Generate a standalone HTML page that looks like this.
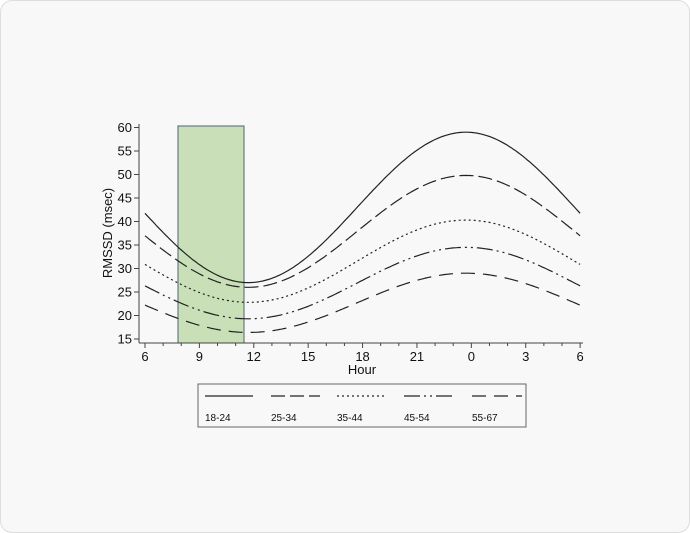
<!DOCTYPE html>
<html><head><meta charset="utf-8"><style>
html,body{margin:0;padding:0;background:#fff;}
.card{position:absolute;left:0;top:0;width:688px;height:531px;border:1px solid #ddd;border-radius:12px;background:#f8f8f8;}
svg{position:absolute;left:0;top:0;}
text{font-family:"Liberation Sans",sans-serif;fill:#111;}
</style></head><body>
<div class="card"></div>
<svg width="690" height="533" viewBox="0 0 690 533" id="s">
<rect x="178" y="126" width="66" height="217" fill="#c9dfb8" stroke="#4d6470" stroke-width="1"/>
<g stroke="#444" stroke-width="1" fill="none">
<line x1="139" y1="124" x2="139" y2="343"/>
<line x1="139" y1="343" x2="583" y2="343"/>
</g>
<g id="ticks" stroke="#444" stroke-width="1"></g>
<g id="labels" font-size="13"></g>
<text x="362" y="374" font-size="13" text-anchor="middle">Hour</text>
<text transform="translate(112,233) rotate(-90)" font-size="13" text-anchor="middle">RMSSD (msec)</text>
<g id="curves" fill="none" stroke="#222" stroke-width="1.2"></g>
<rect x="198" y="384" width="328" height="43" fill="none" stroke="#666" stroke-width="1"/>
<g stroke="#222" stroke-width="1.2">
<line x1="205" y1="396" x2="253" y2="396"/>
<line x1="271" y1="396" x2="320" y2="396" stroke-dasharray="14,5"/>
<line x1="337" y1="396" x2="386" y2="396" stroke-dasharray="2,3"/>
<line x1="404" y1="396" x2="453" y2="396" stroke-dasharray="16,4,2,4,2,4"/>
<line x1="472" y1="396" x2="522" y2="396" stroke-dasharray="14,8"/>
</g>
<g font-size="10">
<text x="205" y="421">18-24</text>
<text x="271" y="421">25-34</text>
<text x="337" y="421">35-44</text>
<text x="404" y="421">45-54</text>
<text x="472" y="421">55-67</text>
</g>
</svg>
<script>
var NS="http://www.w3.org/2000/svg";
function el(t,a,p,txt){var e=document.createElementNS(NS,t);for(var k in a)e.setAttribute(k,a[k]);if(txt!==undefined)e.textContent=txt;document.getElementById(p).appendChild(e);}
function X(h){return 145+(h-6)*18.13;}
function Y(v){return 339-(v-15)*4.7;}
for(var v=15;v<=60;v+=5){el("line",{x1:134,y1:Y(v),x2:139,y2:Y(v)},"ticks");el("text",{x:132,y:Y(v)+4.5,"text-anchor":"end"},"labels",v);}
for(var h=6;h<=30;h++){var maj=(h%3==0);el("line",{x1:X(h),y1:343,x2:X(h),y2:maj?348:346},"ticks");if(maj)el("text",{x:X(h),y:361,"text-anchor":"middle"},"labels",h%24);}
var C=[[43,16,""],[37.9,11.9,"14,5"],[31.55,8.75,"2,3"],[26.9,7.6,"16,4,2,4,2,4"],[22.7,6.3,"14,8"]];
C.forEach(function(c){var d="";for(var h=6;h<=30.001;h+=0.1){var v=c[0]-c[1]*Math.cos(2*Math.PI*(h-11.7)/24);d+=(d?"L":"M")+X(h).toFixed(1)+","+Y(v).toFixed(1);}var a={d:d};if(c[2])a["stroke-dasharray"]=c[2];el("path",a,"curves");});
</script>
</body></html>
